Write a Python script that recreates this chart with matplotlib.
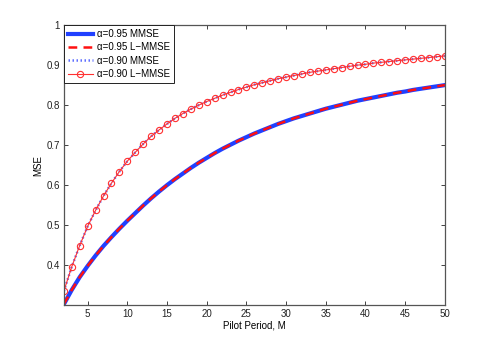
import matplotlib
matplotlib.use("Agg")
import matplotlib.pyplot as plt

plt.rcParams["font.family"] = ["Liberation Sans", "DejaVu Sans"]

# pilot period M and MSE
pilot_m = list(range(2, 51))
mse_a095 = [0.302, 0.338, 0.370, 0.398, 0.424, 0.448, 0.470, 0.491, 0.511, 0.530,
            0.549, 0.567, 0.584, 0.600, 0.615, 0.629, 0.643, 0.656, 0.668, 0.680,
            0.691, 0.701, 0.711, 0.720, 0.729, 0.737, 0.745, 0.753, 0.760, 0.767,
            0.773, 0.779, 0.785, 0.791, 0.796, 0.801, 0.806, 0.811, 0.815, 0.819,
            0.823, 0.827, 0.831, 0.834, 0.838, 0.841, 0.844, 0.847, 0.850]
lmmse_a095 = list(mse_a095)   # L-MMSE sits on top of MMSE
mse_a090 = [0.335, 0.396, 0.449, 0.497, 0.537, 0.573, 0.605, 0.634, 0.660, 0.682,
            0.703, 0.722, 0.738, 0.753, 0.767, 0.779, 0.790, 0.800, 0.809, 0.817,
            0.825, 0.832, 0.839, 0.845, 0.851, 0.856, 0.861, 0.866, 0.870, 0.874,
            0.878, 0.882, 0.885, 0.888, 0.891, 0.894, 0.897, 0.900, 0.902, 0.905,
            0.907, 0.909, 0.911, 0.913, 0.915, 0.917, 0.919, 0.921, 0.923]
lmmse_a090 = list(mse_a090)

x_ticks = [5, 10, 15, 20, 25, 30, 35, 40, 45, 50]
y_ticks = [0.4, 0.5, 0.6, 0.7, 0.8, 0.9, 1.0]
y_labels = ["0.4", "0.5", "0.6", "0.7", "0.8", "0.9", "1"]

fig = plt.figure(figsize=(4.91, 3.44), dpi=100)
ax = fig.add_axes([0.13, 0.113, 0.776, 0.814])

ax.plot(pilot_m, mse_a095, color="#2040ff", lw=3.0, label="\u03b1=0.95 MMSE")
ax.plot(pilot_m, lmmse_a095, color="#ff1010", lw=1.8, ls=(0, (3.5, 2.5)),
        label="\u03b1=0.95 L\u2212MMSE")
ax.plot(pilot_m, mse_a090, color="#6070ff", lw=1.8, ls=(0, (0.6, 1.0)),
        label="\u03b1=0.90 MMSE")
ax.plot(pilot_m, lmmse_a090, color="#ff3030", lw=0.8, marker="o", ms=4.5,
        mfc="none", mec="#ff3030", mew=0.8, label="\u03b1=0.90 L\u2212MMSE")

ax.set_xlim(2, 50)
ax.set_ylim(0.3, 1.0)
ax.set_xticks(x_ticks)
ax.set_yticks(y_ticks)
ax.set_yticklabels(y_labels)
ax.tick_params(direction="in", length=3, width=0.6, labelsize=7, colors="#222222",
               top=True, right=True, pad=3)
for s in ax.spines.values():
    s.set_color("#555555")
    s.set_linewidth(0.9)

ax.set_xlabel("Pilot Period, M", fontsize=7, labelpad=1)
ax.set_ylabel("MSE", fontsize=7, labelpad=2)

leg = ax.legend(loc="upper left", fontsize=7, handlelength=2.6, borderaxespad=0.0,
                fancybox=False, framealpha=1, edgecolor="#222222",
                borderpad=0.4, labelspacing=0.35, handletextpad=0.4)
leg.get_frame().set_linewidth(0.7)

fig.savefig("out.png", dpi=100, facecolor="white")
